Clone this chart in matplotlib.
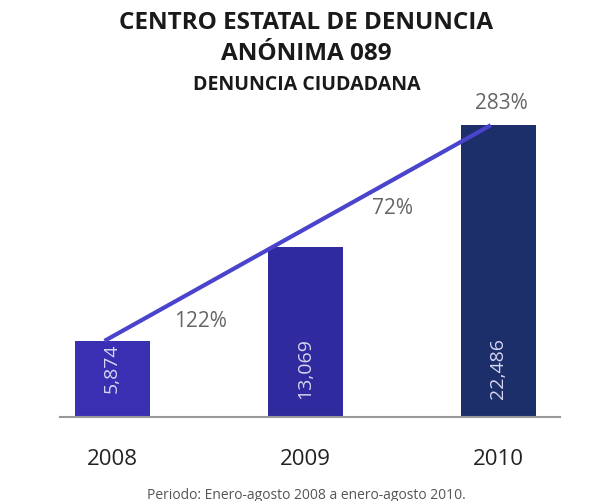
import matplotlib.pyplot as plt

years = ['2008', '2009', '2010']
values = [5874, 13069, 22486]
value_labels = ['5,874', '13,069', '22,486']
growth_labels = ['122%', '72%', '283%']
bar_colors = ['#3a2fb2', '#2f2a9e', '#1c2f6a']

fig = plt.figure(figsize=(6.13, 5.02), dpi=100)
ax = fig.add_axes([0.098, 0.167, 0.816, 0.6135])

ax.bar(range(3), values, width=0.39, color=bar_colors, zorder=2)

# trend line from first bar to last bar
ax.plot([-0.04, 1.96], [values[0], values[2]], color='#4a44cc', lw=3,
        solid_capstyle='butt', zorder=3)

# values inside bars
for i, lab in enumerate(value_labels):
    ax.annotate(lab, xy=(i, 0), xytext=(0, 36), textcoords='offset points',
                rotation=90, ha='center', va='center', color='#d8d6f2',
                fontsize=14, family='Open Sans', zorder=4)

# growth labels
ax.annotate(growth_labels[0], xy=(0.5, values[0]), xytext=(-6, 15),
            textcoords='offset points', ha='center', va='center',
            color='#666666', fontsize=15, family='Open Sans')
ax.annotate(growth_labels[1], xy=(1.5, values[1]), xytext=(-7, 29),
            textcoords='offset points', ha='center', va='center',
            color='#666666', fontsize=15, family='Open Sans')
ax.annotate(growth_labels[2], xy=(2, values[2]), xytext=(2, 16),
            textcoords='offset points', ha='center', va='center',
            color='#666666', fontsize=15, family='Open Sans')

ax.set_xlim(-0.27, 2.32)
ax.set_ylim(0, 23718)
for s in ['top', 'right', 'left']:
    ax.spines[s].set_visible(False)
ax.spines['bottom'].set_color('#999999')
ax.spines['bottom'].set_linewidth(1.5)
ax.set_yticks([])
ax.set_xticks(range(3))
ax.set_xticklabels(years, fontsize=16, family='Open Sans', color='#222222')
ax.tick_params(axis='x', length=0, pad=22)

fig.text(0.5, 0.954, 'CENTRO ESTATAL DE DENUNCIA', ha='center', va='center',
         fontsize=17.5, fontweight='bold', family='Open Sans', color='#1a1a1a')
fig.text(0.5, 0.892, 'ANÓNIMA 089', ha='center', va='center',
         fontsize=17.5, fontweight='bold', family='Open Sans', color='#1a1a1a')
fig.text(0.5, 0.831, 'DENUNCIA CIUDADANA', ha='center', va='center',
         fontsize=14, fontweight='bold', family='Open Sans', color='#1a1a1a')
fig.text(0.5, 0.012, 'Periodo: Enero-agosto 2008 a enero-agosto 2010.',
         ha='center', va='center', fontsize=10, family='Open Sans',
         color='#555555')

fig.savefig('out.png', dpi=100)
